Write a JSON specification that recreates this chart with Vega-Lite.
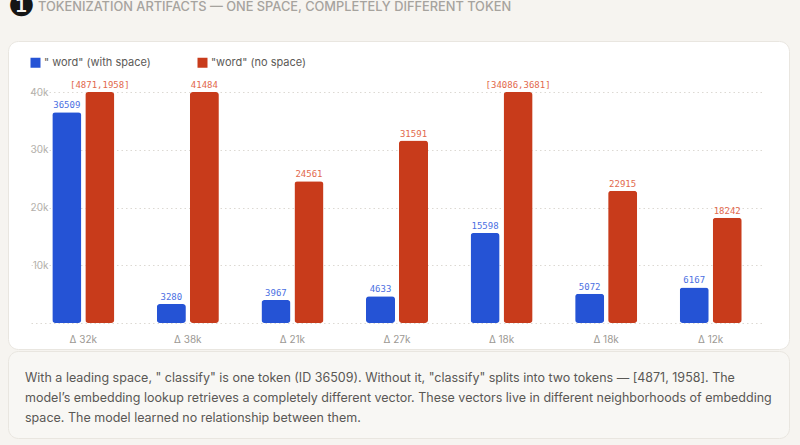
{
  "$schema": "https://vega.github.io/schema/vega-lite/v6.json",
  "background": "#f6f4f0",
  "padding": {"left": 7, "right": 12, "top": -8, "bottom": 10},
  "spacing": 0,
  "title": {
    "text": "\u2800\u2800\u2800TOKENIZATION ARTIFACTS — ONE SPACE, COMPLETELY DIFFERENT TOKEN",
    "subtitle": "❶",
    "anchor": "start",
    "frame": "group",
    "font": "Inter",
    "fontSize": 12.8,
    "fontWeight": 500,
    "color": "#a6a39e",
    "subtitleFont": "DejaVu Sans",
    "subtitleFontSize": 30,
    "subtitleColor": "#151515",
    "subtitlePadding": -21,
    "offset": 10
  },
  "config": {
    "font": "Inter",
    "view": {"stroke": null}
  },
  "vconcat": [
    {
      "width": 781,
      "height": 308,
      "view": {"fill": "#ffffff", "stroke": "#e9e6e0", "cornerRadius": 10},
      "data": {
        "values": [
          {"pair": "1", "delta": "Δ 32k", "series": "\" word\" (with space)", "value": 36509, "label": "36509"},
          {"pair": "1", "delta": "Δ 32k", "series": "\"word\" (no space)", "value": 40000, "label": "[4871,1958]"},
          {"pair": "2", "delta": "Δ 38k", "series": "\" word\" (with space)", "value": 3280, "label": "3280"},
          {"pair": "2", "delta": "Δ 38k", "series": "\"word\" (no space)", "value": 41484, "label": "41484"},
          {"pair": "3", "delta": "Δ 21k", "series": "\" word\" (with space)", "value": 3967, "label": "3967"},
          {"pair": "3", "delta": "Δ 21k", "series": "\"word\" (no space)", "value": 24561, "label": "24561"},
          {"pair": "4", "delta": "Δ 27k", "series": "\" word\" (with space)", "value": 4633, "label": "4633"},
          {"pair": "4", "delta": "Δ 27k", "series": "\"word\" (no space)", "value": 31591, "label": "31591"},
          {"pair": "5", "delta": "Δ 18k", "series": "\" word\" (with space)", "value": 15598, "label": "15598"},
          {"pair": "5", "delta": "Δ 18k", "series": "\"word\" (no space)", "value": 40000, "label": "[34086,3681]"},
          {"pair": "6", "delta": "Δ 18k", "series": "\" word\" (with space)", "value": 5072, "label": "5072"},
          {"pair": "6", "delta": "Δ 18k", "series": "\"word\" (no space)", "value": 22915, "label": "22915"},
          {"pair": "7", "delta": "Δ 12k", "series": "\" word\" (with space)", "value": 6167, "label": "6167"},
          {"pair": "7", "delta": "Δ 12k", "series": "\"word\" (no space)", "value": 18242, "label": "18242"}
        ]
      },
      "encoding": {
        "x": {
          "field": "pair",
          "type": "nominal",
          "sort": null,
          "axis": null,
          "scale": {"range": [23, 755], "paddingInner": 0, "paddingOuter": 0}
        },
        "y": {
          "field": "value",
          "type": "quantitative",
          "scale": {"domain": [0, 40000], "range": [282, 51], "clamp": true, "nice": false},
          "axis": {
            "orient": "left",
            "title": null,
            "offset": -42,
            "domain": false,
            "ticks": false,
            "tickSize": 0,
            "labelPadding": 2,
            "values": [0, 10000, 20000, 30000, 40000],
            "labelExpr": "datum.value === 0 ? '' : format(datum.value / 1000, 'd') + 'k'",
            "labelColor": "#b3b0ab",
            "labelFontSize": 10,
            "labelFont": "Inter",
            "grid": true,
            "gridColor": "#dcd9d3",
            "gridDash": [1.5, 3],
            "gridWidth": 1
          }
        }
      },
      "layer": [
        {
          "mark": {"type": "bar", "cornerRadius": 3},
          "encoding": {
            "xOffset": {
              "field": "series",
              "type": "nominal",
              "sort": ["\" word\" (with space)", "\"word\" (no space)"],
              "scale": {"paddingInner": 0.121, "paddingOuter": 0.645}
            },
            "color": {
              "field": "series",
              "type": "nominal",
              "sort": ["\" word\" (with space)", "\"word\" (no space)"],
              "scale": {
                "domain": ["\" word\" (with space)", "\"word\" (no space)"],
                "range": ["#2553d5", "#c83b1b"]
              },
              "legend": {
                "orient": "none",
                "legendX": 22,
                "legendY": 16,
                "direction": "horizontal",
                "title": null,
                "symbolType": "square",
                "symbolSize": 100,
                "symbolStrokeWidth": 0,
                "labelFontSize": 11,
                "labelFont": "Inter",
                "labelColor": "#5c5a57",
                "labelOffset": 3,
                "columnPadding": 46
              }
            }
          }
        },
        {
          "mark": {
            "type": "text",
            "font": "DejaVu Sans Mono",
            "fontSize": 9,
            "baseline": "alphabetic",
            "dy": -4
          },
          "encoding": {
            "xOffset": {
              "field": "series",
              "type": "nominal",
              "sort": ["\" word\" (with space)", "\"word\" (no space)"]
            },
            "text": {"field": "label"},
            "color": {
              "condition": {"test": "datum.series === '\" word\" (with space)'", "value": "#4c6fe2"},
              "value": "#e2684c"
            }
          }
        },
        {
          "transform": [{"filter": {"field": "series", "equal": "\" word\" (with space)"}}],
          "mark": {
            "type": "text",
            "fontSize": 10,
            "font": "Inter",
            "color": "#9c9994",
            "baseline": "middle",
            "dy": 17
          },
          "encoding": {
            "y": {"datum": 0},
            "text": {"field": "delta"}
          }
        }
      ]
    },
    {
      "width": 781,
      "height": 87,
      "view": {"fill": "#f8f7f4", "stroke": "#e9e6e0", "cornerRadius": 10},
      "data": {
        "values": [
          {"line": 1, "text": "With a leading space, \" classify\" is one token (ID 36509). Without it, \"classify\" splits into two tokens — [4871, 1958]. The"},
          {"line": 2, "text": "model’s embedding lookup retrieves a completely different vector. These vectors live in different neighborhoods of embedding"},
          {"line": 3, "text": "space. The model learned no relationship between them."}
        ]
      },
      "mark": {
        "type": "text",
        "align": "left",
        "baseline": "middle",
        "font": "Inter",
        "fontSize": 12.5,
        "color": "#5a5855"
      },
      "encoding": {
        "x": {"datum": 0, "type": "quantitative", "scale": {"domain": [0, 1], "range": [17, 764]}, "axis": null},
        "y": {"field": "line", "type": "ordinal", "axis": null, "scale": {"range": [27, 67], "padding": 0}},
        "text": {"field": "text"}
      }
    }
  ]
}
